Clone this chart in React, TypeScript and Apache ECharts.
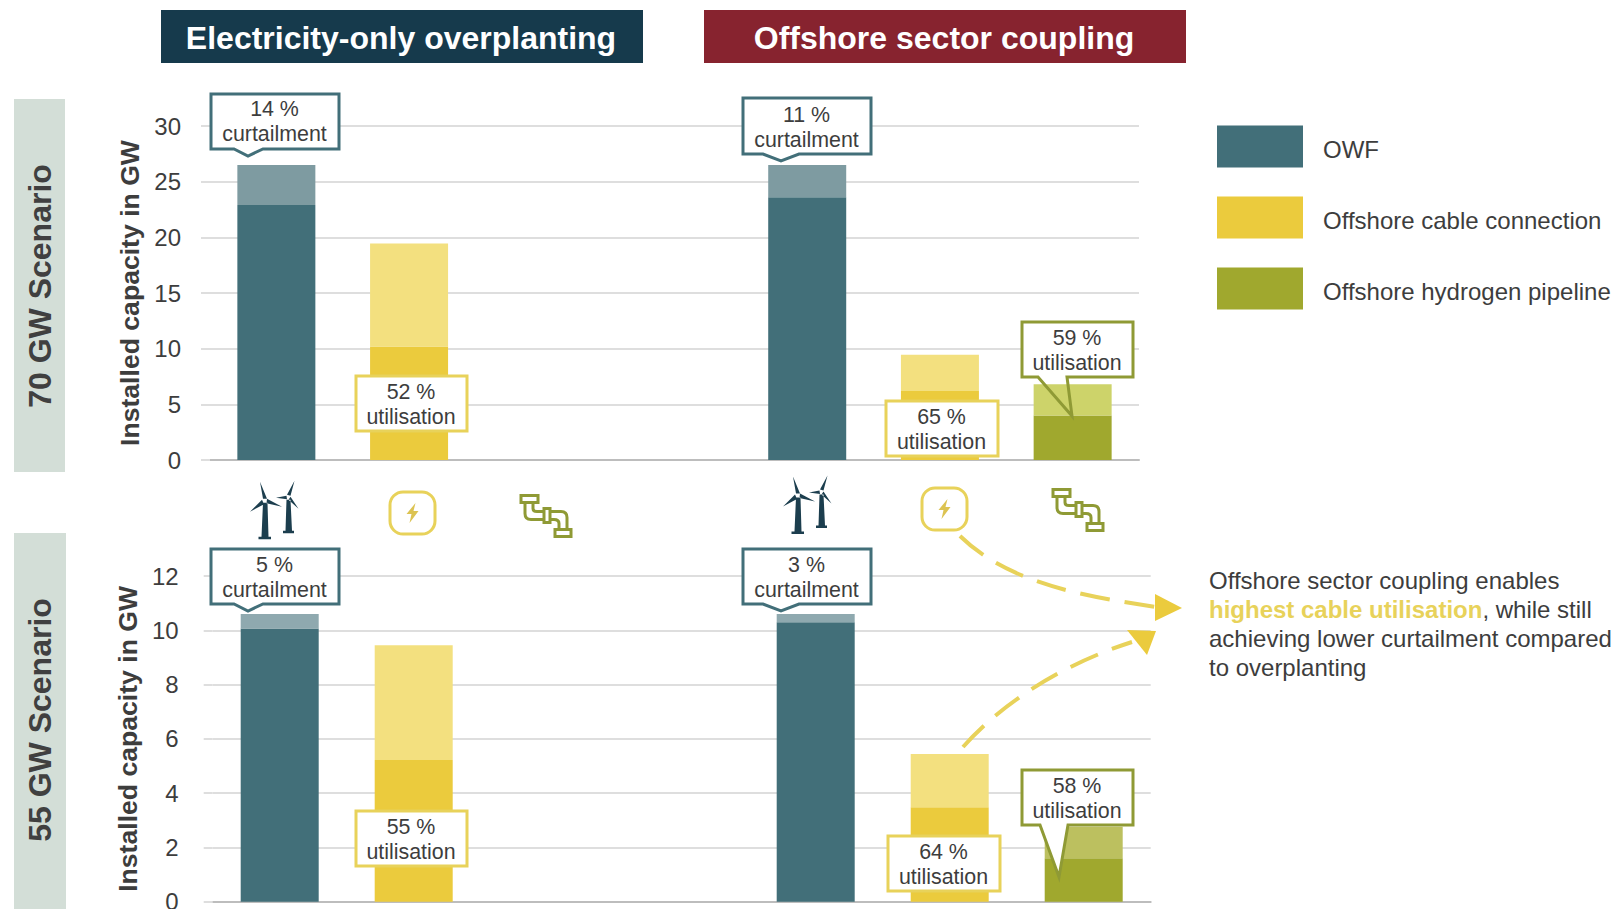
import React, { useEffect, useRef } from "react";
import * as echarts from "echarts";

const FONT = '"Liberation Sans", Arial, sans-serif';
const TEXT = "#3d3d3d";
const TEAL = "#426f79";
const YELLOW = "#ebcb3d";
const OLIVE = "#a0a82e";
const CALL_YELLOW = "#e8d25a";
const CALL_OLIVE = "#8f9a35";

// Seven slots on the category axis: three per concept and one spacer between them.
const slots = ["OWF A", "Cable A", "Pipeline A", "Gap", "OWF B", "Cable B", "Pipeline B"];

const owf70Used = [22.9, null, null, null, 23.6, null, null];
const owf70Curtailed = [3.6, null, null, null, 2.9, null, null];
const cable70Used = [null, 10.2, null, null, null, 6.2, null];
const cable70Idle = [null, 9.25, null, null, null, 3.25, null];
const pipe70Used = [null, null, null, null, null, null, 4.0];
const pipe70Idle = [null, null, null, null, null, null, 2.8];

const owf55Used = [10.07, null, null, null, 10.3, null, null];
const owf55Curtailed = [0.53, null, null, null, 0.3, null, null];
const cable55Used = [null, 5.22, null, null, null, 3.48, null];
const cable55Idle = [null, 4.23, null, null, null, 1.96, null];
const pipe55Used = [null, null, null, null, null, null, 1.6];
const pipe55Idle = [null, null, null, null, null, null, 1.16];

const curtailmentLabels = ["14 %", "11 %", "5 %", "3 %"];
const utilisationLabels = ["52 %", "65 %", "59 %", "55 %", "64 %", "58 %"];
const legendNames = ["OWF", "Offshore cable connection", "Offshore hydrogen pipeline"];

const TURBINES =
  "M-2,2 L-3.5,36 L-6.5,36 L-6.5,38.5 L6,38.5 L6,36 L3.5,36 L2.5,2 Z " +
  "M-2,-2 L-5,-19 L2,-2 Z M-3,-1 L-15,11 L-1,3.5 Z M2,-2 L17,6 L1.5,2.5 Z " +
  "M21.5,-1 L20.5,30 L18,30 L18,32.5 L29,32.5 L29,30 L27,30 L25.5,-1 Z " +
  "M22,-6 L29.5,-20 L25.5,-5 Z M21.5,-5 L11,-3 L22,-1.5 Z M25.5,-4 L33.5,8 L23.5,-1 Z";
const BOLT = "M3,-10 L-6,1 L-1,1 L-3,10 L6,-2 L1,-2 Z";
const PIPES =
  "M0,0 L17,0 L17,7 L0,7 Z M4,7 L4,18 Q4,24 10,24 L23,24 M12,7 L12,13 Q12,16 16,16 L23,16 " +
  "M23,13 L29,13 L29,27 L23,27 Z M29,16 L40,16 Q46,16 46,22 L46,34 M29,24 L33,24 Q38,24 38,28 L38,34 " +
  "M34,34 L50,34 L50,41 L34,41 Z";

echarts.graphic.registerShape("turbines", echarts.graphic.extendPath(TURBINES, {}));
echarts.graphic.registerShape("bolt", echarts.graphic.extendPath(BOLT, {}));
echarts.graphic.registerShape("pipes", echarts.graphic.extendPath(PIPES, {}));

function callout(
  box: number[], tail: number[] | null, color: string, top: string, bottom: string,
  textShift = 0, openTail = false,
) {
  const [x0, y0, x1, y1] = box;
  const pts: number[][] = [[x0, y0], [x1, y0], [x1, y1]];
  if (tail) {
    const [b1, b2, tx, ty] = tail;
    pts.push([b2, y1], [tx, ty], [b1, y1]);
  }
  pts.push([x0, y1]);
  const outline = openTail
    ? [
        { type: "rect", z: 20, shape: { x: x0, y: y0, width: x1 - x0, height: y1 - y0 }, style: { fill: "#fff" } },
        { type: "polygon", z: 20, shape: { points: pts }, style: { fill: "none", stroke: color, lineWidth: 3 } },
      ]
    : [{ type: "polygon", z: 20, shape: { points: pts }, style: { fill: "#fff", stroke: color, lineWidth: 3 } }];
  return [
    ...outline,
    {
      type: "text", z: 21, x: (x0 + x1) / 2 - 0.5, y: (y0 + y1) / 2 + 1 + textShift,
      style: {
        text: `${top}\n${bottom}`, font: `21.4px ${FONT}`, fill: TEXT, lineHeight: 25,
        align: "center", verticalAlign: "middle",
      },
    },
  ];
}

function banner(x: number, y: number, w: number, h: number, fill: string, label: string) {
  return [
    { type: "rect", z: 5, shape: { x, y, width: w, height: h }, style: { fill } },
    {
      type: "text", z: 6, x: x + w / 2 - 1, y: y + h / 2 + 1,
      style: { text: label, font: `bold 32px ${FONT}`, fill: "#fff", align: "center", verticalAlign: "middle" },
    },
  ];
}

function sideLabel(x: number, y: number, w: number, h: number, cy: number, label: string) {
  return [
    { type: "rect", z: 5, shape: { x, y, width: w, height: h }, style: { fill: "#d3ded7" } },
    {
      type: "text", z: 6, x: x + w / 2, y: cy, rotation: Math.PI / 2,
      style: { text: label, font: `bold 32px ${FONT}`, fill: "#404040", align: "center", verticalAlign: "middle" },
    },
  ];
}

function barSeries(name: string, data: (number | null)[], color: string, axis: number, stack: string) {
  return {
    type: "bar", name, data, stack, xAxisIndex: axis, yAxisIndex: axis, barWidth: 78,
    itemStyle: { color }, emphasis: { disabled: true }, z: 3,
  };
}

function App() {
  const ref = useRef<HTMLDivElement>(null);
  useEffect(() => {
    const chart = echarts.init(ref.current!, null, { renderer: "svg" });
    const gridLine = { color: "#dedede", width: 2 };
    const yAxis = (max: number, interval: number, gridIndex: number, margin: number, nameGap: number) => ({
      type: "value", gridIndex, min: 0, max, interval,
      name: "Installed capacity in GW", nameLocation: "middle", nameRotate: 90, nameGap,
      nameTextStyle: { fontFamily: FONT, fontSize: 26.6, fontWeight: "bold", color: TEXT },
      axisLine: { show: false },
      axisTick: { show: true, length: 9, lineStyle: gridLine },
      axisLabel: { fontFamily: FONT, fontSize: 24, color: TEXT, margin },
      splitLine: { lineStyle: gridLine },
    });
    const xAxis = (gridIndex: number) => ({
      type: "category", gridIndex, data: slots,
      axisTick: { show: false }, axisLabel: { show: false },
      axisLine: { lineStyle: { color: "#bdbdbd", width: 2 } },
    });

    const graphic: any[] = [
      ...banner(161, 10, 482, 53, "#163a4c", "Electricity-only overplanting"),
      ...banner(704, 10, 482, 53, "#87232f", "Offshore sector coupling"),
      ...sideLabel(14, 99, 51, 373, 286, "70 GW Scenario"),
      ...sideLabel(14, 533, 52, 376, 720, "55 GW Scenario"),

      { type: "turbines", z: 10, x: 265, y: 500.7, style: { fill: "#1c3e4e" } },
      { type: "turbines", z: 10, x: 798, y: 495.5, style: { fill: "#1c3e4e" } },
      { type: "rect", z: 10, shape: { x: 390, y: 492, width: 45, height: 42, r: 13 }, style: { fill: "#fff", stroke: CALL_YELLOW, lineWidth: 3 } },
      { type: "bolt", z: 11, x: 412.5, y: 513, style: { fill: "#dcc352" } },
      { type: "rect", z: 10, shape: { x: 922, y: 488, width: 45, height: 42, r: 13 }, style: { fill: "#fff", stroke: CALL_YELLOW, lineWidth: 3 } },
      { type: "bolt", z: 11, x: 944.5, y: 509, style: { fill: "#dcc352" } },
      { type: "pipes", z: 10, x: 521, y: 495.5, style: { fill: "none", stroke: CALL_OLIVE, lineWidth: 3 } },
      { type: "pipes", z: 10, x: 1053, y: 489.5, style: { fill: "none", stroke: CALL_OLIVE, lineWidth: 3 } },

      ...callout([211, 94, 339, 149], [234, 263, 248, 156], TEAL, curtailmentLabels[0], "curtailment", -1),
      ...callout([743, 98, 871, 154], [763, 799, 781, 161], TEAL, curtailmentLabels[1], "curtailment", 0),
      ...callout([356, 376, 467, 431], null, CALL_YELLOW, utilisationLabels[0], "utilisation"),
      ...callout([886, 401, 998, 456], null, CALL_YELLOW, utilisationLabels[1], "utilisation"),
      ...callout([1022, 322, 1133, 377], [1038, 1067, 1072, 416], CALL_OLIVE, utilisationLabels[2], "utilisation", 0, true),
      ...callout([211, 549, 339, 604], [234, 263, 248, 611], TEAL, curtailmentLabels[2], "curtailment", 0),
      ...callout([743, 549, 871, 604], [763, 799, 781, 611], TEAL, curtailmentLabels[3], "curtailment", 0),
      ...callout([356, 811, 467, 866], null, CALL_YELLOW, utilisationLabels[3], "utilisation"),
      ...callout([888, 836, 1000, 891], null, CALL_YELLOW, utilisationLabels[4], "utilisation"),
      ...callout([1022, 770, 1133, 825], [1040, 1068, 1059, 877], CALL_OLIVE, utilisationLabels[5], "utilisation"),

      {
        type: "bezierCurve", z: 12,
        shape: { x1: 960, y1: 536, cpx1: 1010, cpy1: 585, cpx2: 1090, cpy2: 597, x2: 1156, y2: 607 },
        style: { fill: "none", stroke: CALL_YELLOW, lineWidth: 4, lineDash: [30, 15] },
      },
      { type: "polygon", z: 12, shape: { points: [[1155, 594], [1182, 608], [1155, 621]] }, style: { fill: YELLOW } },
      {
        type: "bezierCurve", z: 12,
        shape: { x1: 963, y1: 747, cpx1: 1000, cpy1: 705, cpx2: 1060, cpy2: 665, x2: 1132, y2: 642 },
        style: { fill: "none", stroke: CALL_YELLOW, lineWidth: 4, lineDash: [30, 15] },
      },
      { type: "polygon", z: 12, shape: { points: [[1127, 630], [1156, 631], [1147, 655]] }, style: { fill: YELLOW } },

      {
        type: "text", z: 12, x: 1209, y: 580,
        style: { text: "Offshore sector coupling enables", font: `24px ${FONT}`, fill: TEXT, verticalAlign: "middle" },
      },
      {
        type: "text", z: 12, x: 1209, y: 609,
        style: {
          text: "{h|highest cable utilisation}{n|, while still}",
          verticalAlign: "middle",
          rich: {
            h: { font: `bold 24px ${FONT}`, fill: CALL_YELLOW },
            n: { font: `24px ${FONT}`, fill: TEXT },
          },
        },
      },
      {
        type: "text", z: 12, x: 1209, y: 638,
        style: { text: "achieving lower curtailment compared", font: `24px ${FONT}`, fill: TEXT, verticalAlign: "middle" },
      },
      {
        type: "text", z: 12, x: 1209, y: 667,
        style: { text: "to overplanting", font: `24px ${FONT}`, fill: TEXT, verticalAlign: "middle" },
      },
    ];

    chart.setOption({
      animation: false,
      backgroundColor: "#fff",
      textStyle: { fontFamily: FONT },
      grid: [
        { left: 210, width: 929, top: 126, height: 334, outerBoundsMode: "none" },
        { left: 212.7, width: 938, top: 576, height: 325.7, outerBoundsMode: "none" },
      ],
      xAxis: [xAxis(0), xAxis(1)],
      yAxis: [yAxis(30, 5, 0, 29, 65), yAxis(12, 2, 1, 34, 71)],
      legend: {
        data: legendNames, orient: "vertical", left: 1217, top: 125.5, selectedMode: false, padding: 0,
        icon: "rect", itemWidth: 86, itemHeight: 42, itemGap: 29,
        formatter: (name: string) => `{t|${name}}`,
        textStyle: {
          fontFamily: FONT, fontSize: 24, color: TEXT, padding: [0, 0, 0, 15],
          rich: { t: { fontFamily: FONT, fontSize: 24, color: TEXT, lineHeight: 30, verticalAlign: "bottom" } },
        },
      },
      series: [
        barSeries(legendNames[0], owf70Used, TEAL, 0, "s70"),
        barSeries("OWF curtailed", owf70Curtailed, "#7e9ba1", 0, "s70"),
        barSeries(legendNames[1], cable70Used, YELLOW, 0, "s70"),
        barSeries("Cable unused", cable70Idle, "#f3e07f", 0, "s70"),
        barSeries(legendNames[2], pipe70Used, OLIVE, 0, "s70"),
        barSeries("Pipeline unused", pipe70Idle, "#cdd36a", 0, "s70"),
        barSeries(legendNames[0], owf55Used, TEAL, 1, "s55"),
        barSeries("OWF curtailed", owf55Curtailed, "#8fa9af", 1, "s55"),
        barSeries(legendNames[1], cable55Used, YELLOW, 1, "s55"),
        barSeries("Cable unused", cable55Idle, "#f3e07f", 1, "s55"),
        barSeries(legendNames[2], pipe55Used, OLIVE, 1, "s55"),
        barSeries("Pipeline unused", pipe55Idle, "#bcc05f", 1, "s55"),
      ],
      graphic: { elements: graphic },
    });
    return () => chart.dispose();
  }, []);
  return (
    <div
      ref={ref}
      style={{ position: "absolute", left: 0, top: 0, width: 1616, height: 909, background: "#fff" }}
    />
  );
}

export default App;
